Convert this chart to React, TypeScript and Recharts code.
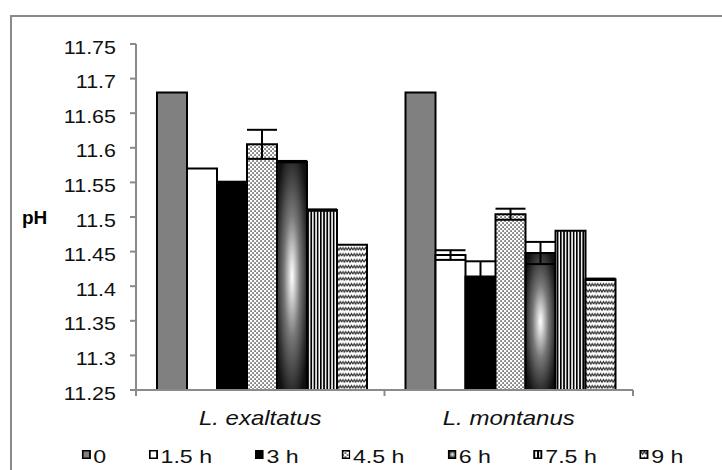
import React from 'react';
import { BarChart, Bar, XAxis, YAxis, ErrorBar } from 'recharts';

const categories = ['L. exaltatus', 'L. montanus'];
const seriesNames = ['0', '1.5 h', '3 h', '4.5 h', '6 h', '7.5 h', '9 h'];
const seriesKeys = ['t0', 't15', 't3', 't45', 't6', 't75', 't9'];
const exaltatusValues = [11.68, 11.57, 11.55, 11.605, 11.58, 11.51, 11.46];
const exaltatusErrors = [0, 0, 0.001, 0.021, 0.001, 0.001, 0];
const montanusValues = [11.68, 11.445, 11.414, 11.504, 11.448, 11.48, 11.41];
const montanusErrors = [0, 0.007, 0.022, 0.008, 0.016, 0, 0.001];
const yTicks = [11.25, 11.3, 11.35, 11.4, 11.45, 11.5, 11.55, 11.6, 11.65, 11.7, 11.75];

const seriesFills = ['#808080', '#ffffff', '#000000', 'url(#pDots)', 'url(#gCenter)', 'url(#pStripes)', 'url(#pWaves)'];

const valueRows = [exaltatusValues, montanusValues];
const errorRows = [exaltatusErrors, montanusErrors];

const data = categories.map((name, ci) => {
  const row: Record<string, any> = { name };
  seriesKeys.forEach((k, si) => {
    row[k] = valueRows[ci][si];
    row[k + '_err'] = errorRows[ci][si];
  });
  return row;
});

const FONT = '"Liberation Sans", Arial, Helvetica, sans-serif';
const AXIS = '#8a8a8a';

const YTick = (props: any) => {
  const { x, y, payload } = props;
  return (
    <text
      transform={`translate(${x},${y + 3}) scale(1.13,1)`}
      textAnchor="end"
      dominantBaseline="central"
      fontSize={19}
      fontFamily={FONT}
      fill="#111"
    >
      {String(payload.value)}
    </text>
  );
};

const CatTick = (props: any) => {
  const { x, y, payload, index, visibleTicksCount } = props;
  const half = typeof payload.offset === 'number' && payload.offset > 0 ? payload.offset : 124.5;
  const axisY = y - 6;
  const isLast = index === (visibleTicksCount ?? categories.length) - 1;
  return (
    <g>
      <line x1={x - half} x2={x - half} y1={axisY} y2={axisY + 6} stroke={AXIS} strokeWidth={2} />
      {isLast && <line x1={x + half} x2={x + half} y1={axisY} y2={axisY + 6} stroke={AXIS} strokeWidth={2} />}
      <text
        transform={`translate(${x},${y + 29}) scale(1.2,1)`}
        textAnchor="middle"
        fontSize={20}
        fontStyle="italic"
        fontFamily={FONT}
        fill="#111"
      >
        {payload.value}
      </text>
    </g>
  );
};

const Legend = () => (
  <div
    style={{
      position: 'absolute',
      left: 0,
      top: 446,
      transform: 'scaleX(1.22)',
      transformOrigin: '0 0',
      display: 'flex',
      alignItems: 'center',
      paddingLeft: 67,
      fontFamily: FONT,
      fontSize: 19,
      lineHeight: '22px',
      color: '#111',
      whiteSpace: 'nowrap',
    }}
  >
    {seriesNames.map((n, i) => (
      <span key={n} style={{ display: 'flex', alignItems: 'center', marginRight: 35 }}>
        <svg width={7.5} height={9} style={{ position: 'relative', top: -2.5, display: 'block' }}>
          <rect x={0.75} y={0.75} width={6} height={7.5} fill={seriesFills[i]} stroke="#000" strokeWidth={1.5} />
        </svg>
        <span style={{ marginLeft: 2 }}>{n}</span>
      </span>
    ))}
  </div>
);

export default function App() {
  return (
    <div style={{ position: 'absolute', left: 0, top: 0, width: 722, height: 470, overflow: 'hidden', background: '#fff' }}>
      <div
        style={{
          position: 'absolute',
          left: 10,
          top: 15,
          width: 800,
          height: 600,
          borderTop: '2px solid #8a8a8a',
          borderLeft: '2px solid #8a8a8a',
        }}
      />
      <div style={{ position: 'absolute', left: 0, top: 0 }}>
        <BarChart
          width={722}
          height={470}
          data={data}
          margin={{ top: 44, right: 89, bottom: 44, left: 0 }}
          barCategoryGap={21}
          barGap={0}
        >
          <defs>
            <pattern id="pDots" patternUnits="userSpaceOnUse" width={4} height={4}>
              <rect width={4} height={4} fill="#fff" />
              <rect x={0.4} y={0.4} width={1.3} height={1.3} fill="#000" />
              <rect x={2.4} y={2.4} width={1.3} height={1.3} fill="#000" />
            </pattern>
            <pattern id="pStripes" patternUnits="userSpaceOnUse" width={3.2} height={4}>
              <rect width={3.2} height={4} fill="#fff" />
              <rect x={0} y={0} width={1.7} height={4} fill="#000" />
            </pattern>
            <pattern id="pWaves" patternUnits="userSpaceOnUse" width={5.6} height={6}>
              <rect width={5.6} height={6} fill="#fff" />
              <path d="M0,4.2 L1.4,1.4 L2.8,4.2 L4.2,1.4 L5.6,4.2" fill="none" stroke="#333" strokeWidth={1.1} />
            </pattern>
            <radialGradient id="gCenter" cx="0.5" cy="0.5" r="0.6">
              <stop offset="0" stopColor="#ffffff" />
              <stop offset="0.12" stopColor="#dddddd" />
              <stop offset="0.45" stopColor="#777777" />
              <stop offset="0.8" stopColor="#333333" />
              <stop offset="1" stopColor="#111111" />
            </radialGradient>
          </defs>
          <XAxis
            dataKey="name"
            height={36}
            axisLine={{ stroke: AXIS, strokeWidth: 2 }}
            tickLine={false}
            tickSize={6}
            tickMargin={0}
            tick={CatTick}
            interval={0}
          />
          <YAxis
            width={136}
            domain={[11.25, 11.75]}
            ticks={yTicks}
            allowDataOverflow
            interval={0}
            tick={YTick}
            tickSize={6}
            tickMargin={14}
            axisLine={{ stroke: AXIS, strokeWidth: 2 }}
            tickLine={{ stroke: AXIS, strokeWidth: 2 }}
            label={{ value: 'pH', position: 'insideLeft', offset: 22, style: { fontWeight: 'bold', fontSize: 19, fill: '#000', fontFamily: FONT } }}
          />
          {seriesKeys.map((k, i) => (
            <Bar key={k} dataKey={k} name={seriesNames[i]} fill={seriesFills[i]} stroke="#000" strokeWidth={2} isAnimationActive={false}>
              <ErrorBar dataKey={k + '_err'} width={15} strokeWidth={2} stroke="#000" direction="y" isAnimationActive={false} />
            </Bar>
          ))}
        </BarChart>
      </div>
      <Legend />
    </div>
  );
}
